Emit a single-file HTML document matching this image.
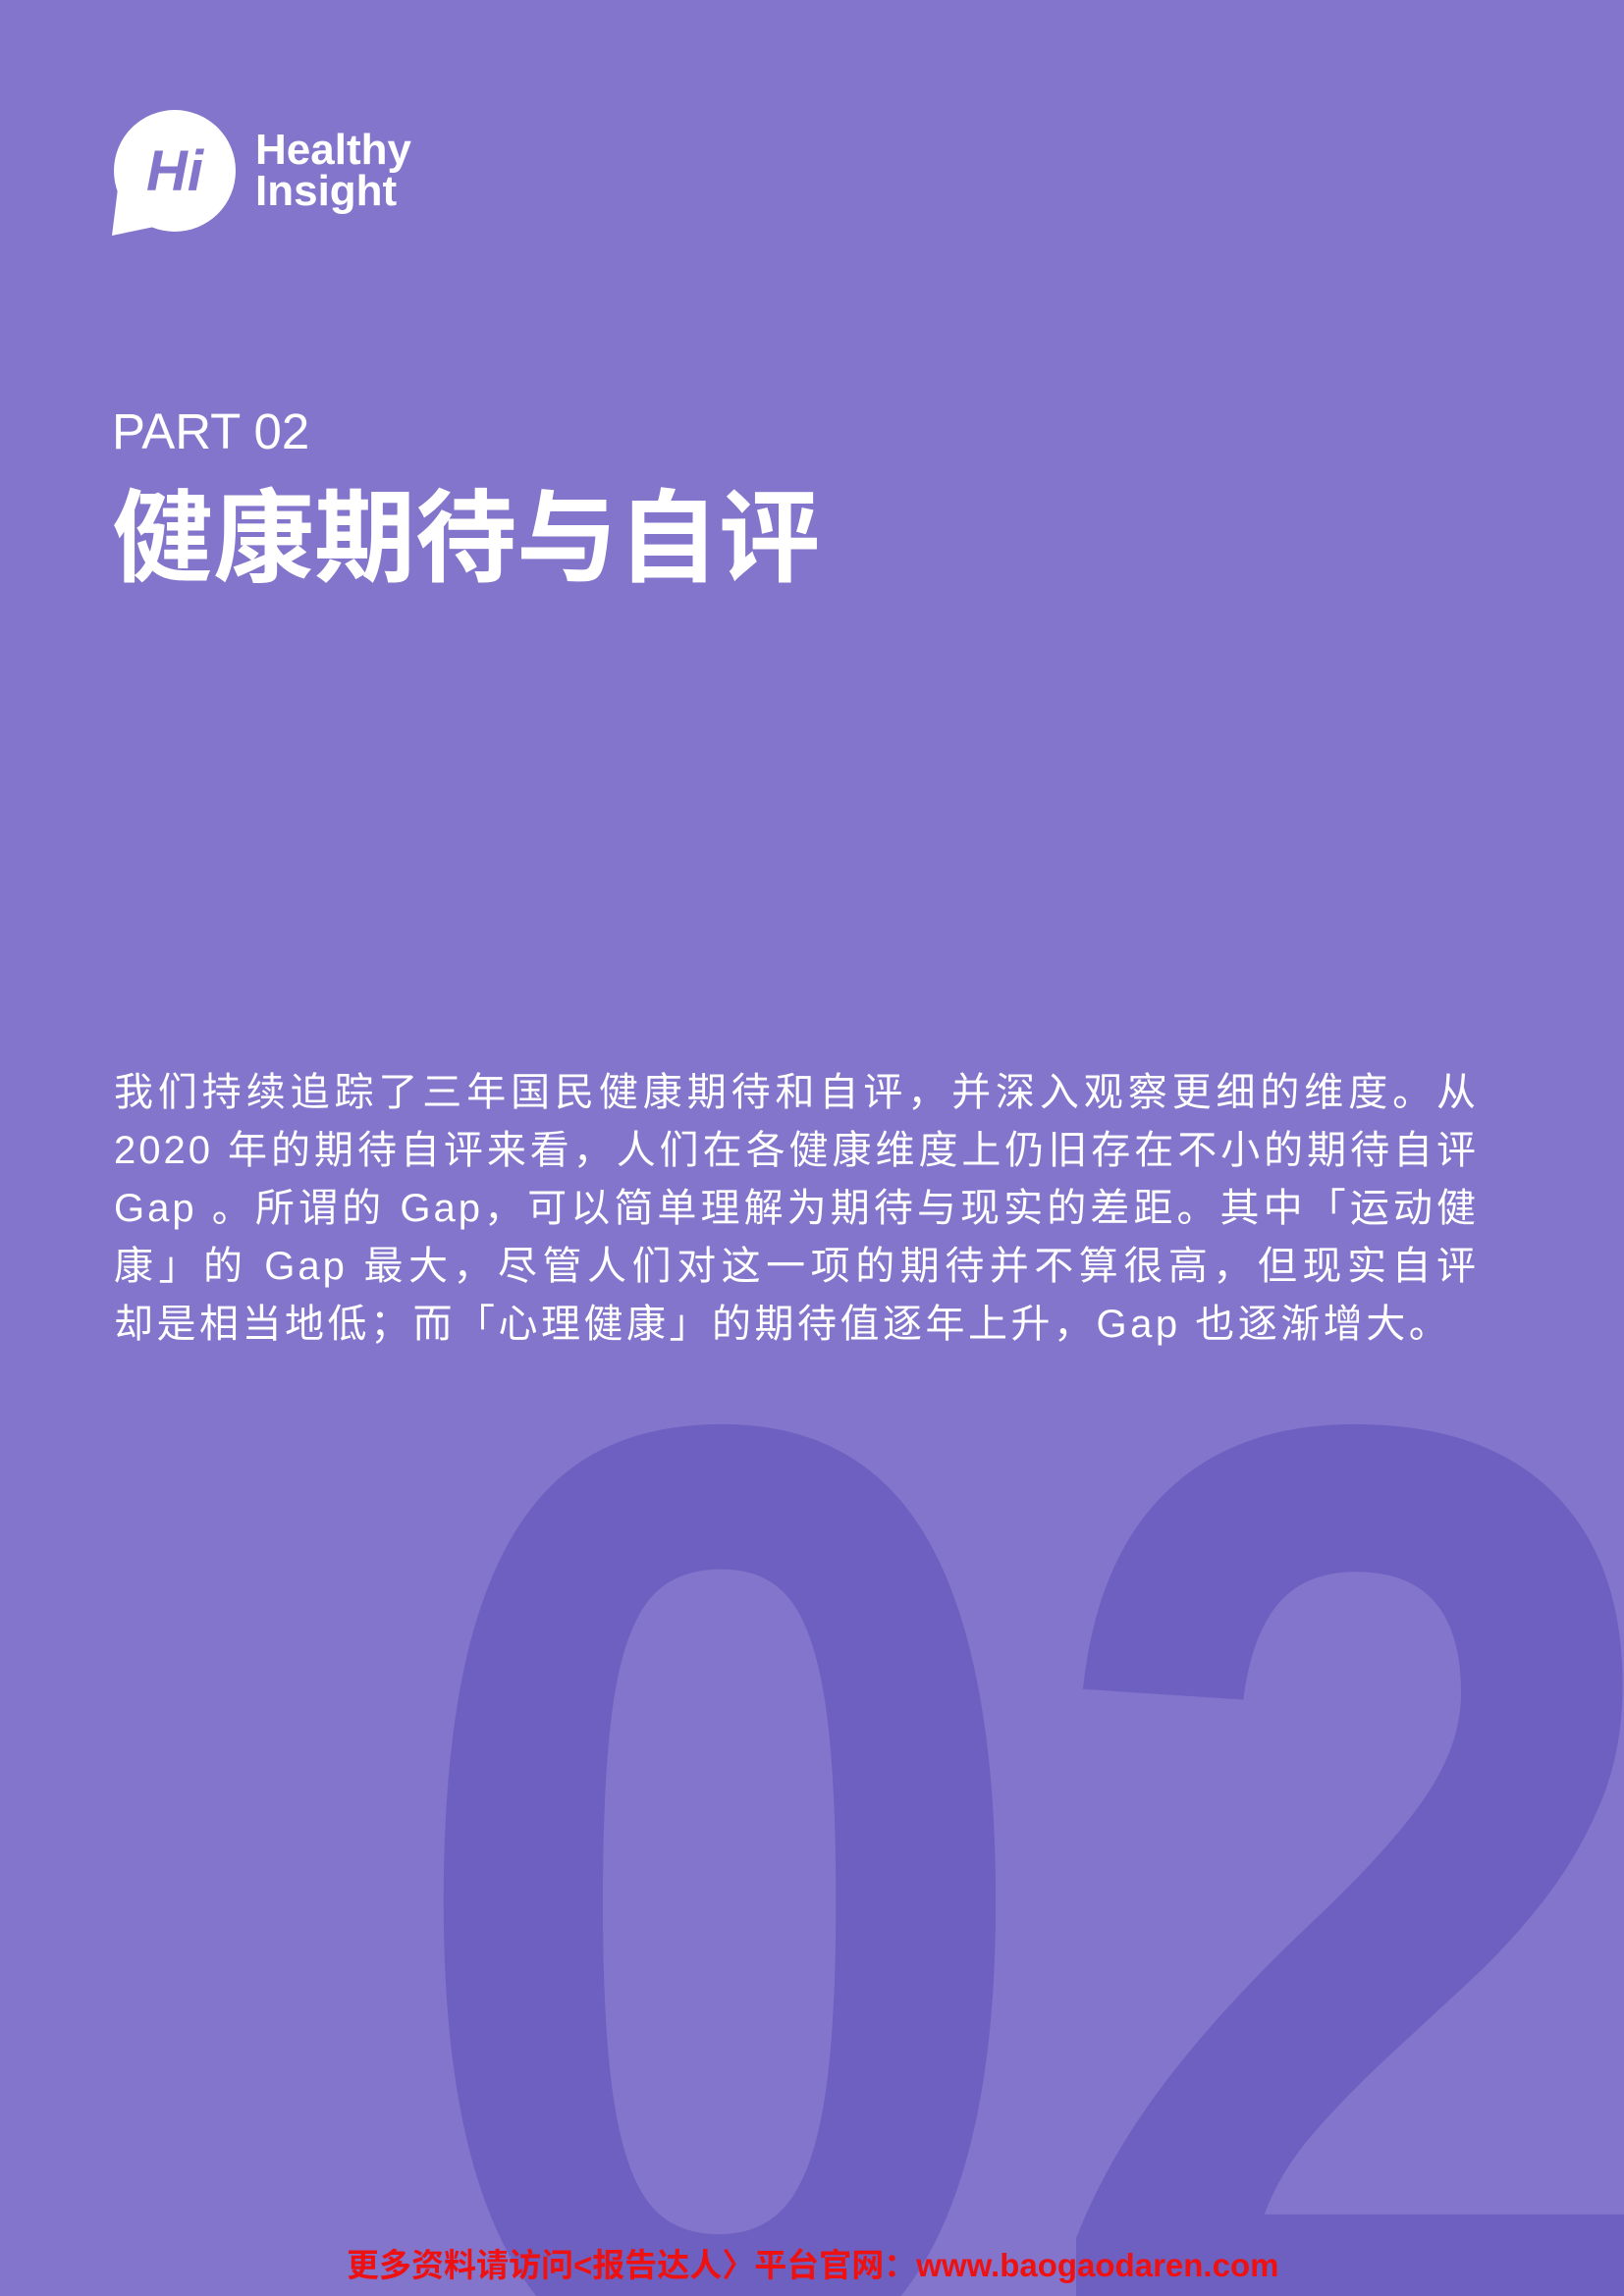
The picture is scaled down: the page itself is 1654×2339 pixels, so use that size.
<!DOCTYPE html>
<html><head><meta charset="utf-8"><style>
html,body{margin:0;padding:0}
body{width:1654px;height:2339px;background:#8375cb;position:relative;overflow:hidden;font-family:"Liberation Sans","Noto Sans CJK SC",sans-serif;color:#fff}
.abs{position:absolute}
.para div{height:59px;line-height:59px;font-size:40px;letter-spacing:3px;white-space:nowrap;text-align:justify;text-align-last:justify;width:1390px}
</style></head><body>
<svg class="abs" style="left:0;top:0" width="1654" height="2339">
  <text x="405" y="2411" font-family="Liberation Sans" font-weight="bold" font-size="1375" fill="#6e60c0" transform="translate(405 0) scale(0.86 1) translate(-405 0)">0</text>
  <text x="1055" y="2411" font-family="Liberation Sans" font-weight="bold" font-size="1375" fill="#6e60c0" transform="translate(1055 0) scale(0.86 1) translate(-1055 0)">2</text>
</svg>
<svg class="abs" style="left:112px;top:112px" width="130" height="130">
  <circle cx="66" cy="62" r="62" fill="#fff"/>
  <path d="M8 80 L2 128 L50 118 Z" fill="#fff"/>
  <text x="66" y="82" text-anchor="middle" font-family="Liberation Sans" font-weight="bold" font-style="italic" font-size="58" fill="#8375cb">Hi</text>
</svg>
<div class="abs" style="left:260px;top:132px;font-size:44px;font-weight:bold;line-height:42px">Healthy<br>Insight</div>
<div class="abs" style="left:114px;top:410px;font-size:51px;font-weight:300;line-height:60px">PART 02</div>
<div class="abs" style="left:114px;top:482px;font-size:103px;font-weight:bold;line-height:115px;font-family:'Noto Sans CJK SC',sans-serif">健康期待与自评</div>
<div class="abs para" style="left:116px;top:1084px">
<div>我们持续追踪了三年国民健康期待和自评，并深入观察更细的维度。从</div>
<div>2020 年的期待自评来看，人们在各健康维度上仍旧存在不小的期待自评</div>
<div>Gap 。所谓的 Gap，可以简单理解为期待与现实的差距。其中「运动健</div>
<div>康」的 Gap 最大，尽管人们对这一项的期待并不算很高，但现实自评</div>
<div style="text-align:left;text-align-last:left;letter-spacing:3.5px">却是相当地低；而「心理健康」的期待值逐年上升，Gap 也逐渐增大。</div>
</div>
<div class="abs" style="left:353px;top:2290px;font-size:33px;font-weight:bold;color:#ee1111;white-space:nowrap;line-height:36px">更多资料请访问&lt;报告达人〉平台官网：www.baogaodaren.com</div>
</body></html>
